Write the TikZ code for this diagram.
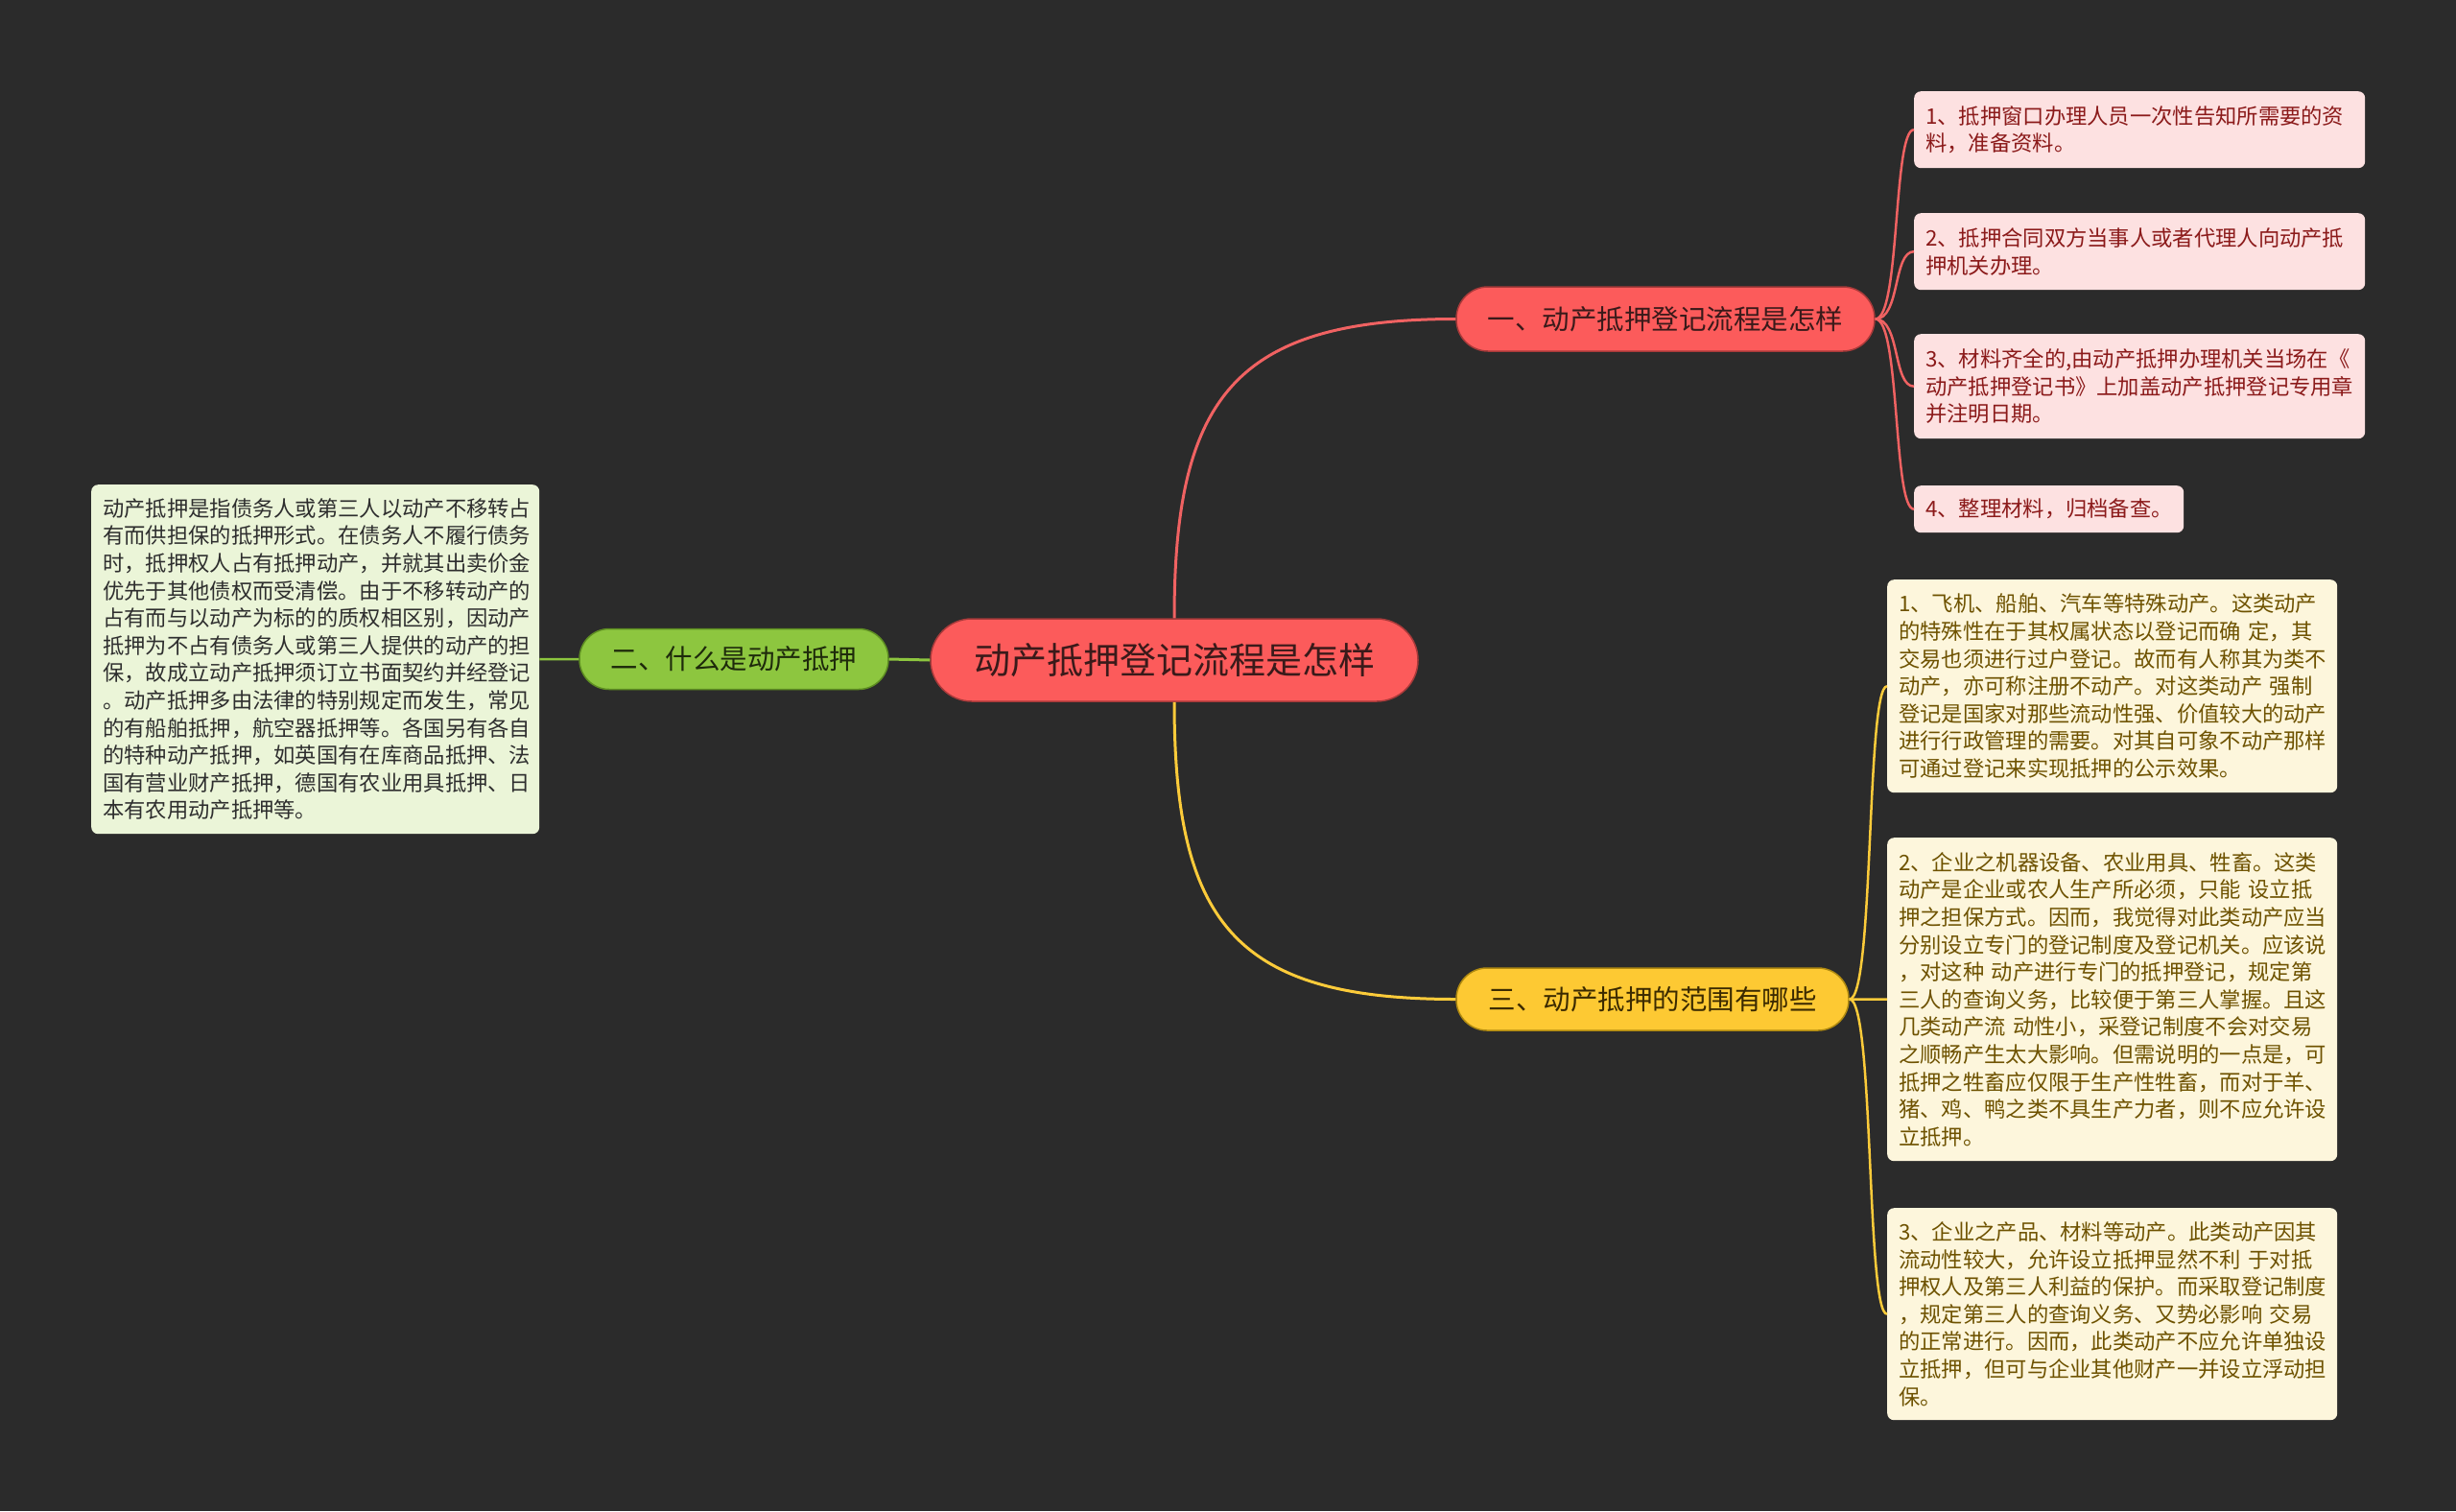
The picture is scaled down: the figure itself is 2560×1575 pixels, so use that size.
\documentclass[tikz,border=0pt]{standalone}
\usepackage{fontspec}
\newfontfamily\cjk{Noto Sans CJK SC}
\usetikzlibrary{calc}
\definecolor{bg}{HTML}{2B2B2B}
\definecolor{redfill}{HTML}{FC5B5B}
\definecolor{redborder}{HTML}{A83A3A}
\definecolor{redtext}{HTML}{3A1A1A}
\definecolor{greenfill}{HTML}{8DC63F}
\definecolor{greenborder}{HTML}{5E8E22}
\definecolor{greentext}{HTML}{1E2A0B}
\definecolor{yellowfill}{HTML}{FDC933}
\definecolor{yellowborder}{HTML}{B08A10}
\definecolor{yellowtext}{HTML}{3B2A00}
\definecolor{redline}{HTML}{F06262}
\definecolor{greenline}{HTML}{8DC63F}
\definecolor{yellowline}{HTML}{FCCB3A}
\definecolor{leafredfill}{HTML}{FDE1E1}
\definecolor{leafredtext}{HTML}{8B1A1A}
\definecolor{leafyellowfill}{HTML}{FDF6DC}
\definecolor{leafyellowtext}{HTML}{6E5200}
\definecolor{leafgreenfill}{HTML}{EBF5D8}
\definecolor{leafgreentext}{HTML}{2E2E2E}
\begin{document}
\begin{tikzpicture}[x=1pt,y=-1pt,
  rootnode/.style={draw=redborder, line width=1.5pt, fill=redfill, rounded corners=43pt,
    minimum width=508pt, minimum height=86pt, inner sep=0pt, text=redtext,
    font=\cjk\fontsize{38}{44}\selectfont},
  branchnode/.style={line width=1.5pt, inner sep=0pt, font=\cjk\fontsize{28.5}{34}\selectfont},
  leafnode/.style={anchor=north west, rounded corners=7pt, inner xsep=12pt, inner ysep=0pt,
    align=left, font=\cjk\fontsize{22.3}{28.6}\selectfont},
  redleaf/.style={leafnode, fill=leafredfill, text=leafredtext},
  yellowleaf/.style={leafnode, fill=leafyellowfill, text=leafyellowtext},
  greenleaf/.style={leafnode, fill=leafgreenfill, text=leafgreentext},
  mainedge/.style={line width=3pt},
  leafedge/.style={line width=2.5pt}
]
\useasboundingbox (0,0) rectangle (2560,1575);
\fill[bg] (0,0) rectangle (2560,1575);

% root and branches
\node[rootnode] (root) at (1224,688) {动产抵押登记流程是怎样};
\node[branchnode, draw=redborder, fill=redfill, text=redtext, rounded corners=33pt,
  minimum width=436pt, minimum height=67pt] (b1) at (1736,332.5) {一、动产抵押登记流程是怎样};
\node[branchnode, draw=greenborder, fill=greenfill, text=greentext, rounded corners=31pt,
  minimum width=322pt, minimum height=63pt] (b2) at (765,687) {二、什么是动产抵押};
\node[branchnode, draw=yellowborder, fill=yellowfill, text=yellowtext, rounded corners=32pt,
  minimum width=409pt, minimum height=65pt] (b3) at (1722.5,1041.5) {三、动产抵押的范围有哪些};

% left leaf
\node[greenleaf, text width=443pt, minimum height=364pt] (g) at (95,505) {%
动产抵押是指债务人或第三人以动产不移转占\\
有而供担保的抵押形式。在债务人不履行债务\\
时，抵押权人占有抵押动产，并就其出卖价金\\
优先于其他债权而受清偿。由于不移转动产的\\
占有而与以动产为标的的质权相区别，因动产\\
抵押为不占有债务人或第三人提供的动产的担\\
保，故成立动产抵押须订立书面契约并经登记\\
。动产抵押多由法律的特别规定而发生，常见\\
的有船舶抵押，航空器抵押等。各国另有各自\\
的特种动产抵押，如英国有在库商品抵押、法\\
国有营业财产抵押，德国有农业用具抵押、日\\
本有农用动产抵押等。};

% red leaves
\node[redleaf, text width=446pt, minimum height=80pt] (l1) at (1995,95) {%
1、抵押窗口办理人员一次性告知所需要的资\\
料，准备资料。};
\node[redleaf, text width=446pt, minimum height=80pt] (l2) at (1995,222) {%
2、抵押合同双方当事人或者代理人向动产抵\\
押机关办理。};
\node[redleaf, text width=446pt, minimum height=109pt] (l3) at (1995,348) {%
3、材料齐全的,由动产抵押办理机关当场在《\\
动产抵押登记书》上加盖动产抵押登记专用章\\
并注明日期。};
\node[redleaf, text width=257pt, minimum height=49pt] (l4) at (1995,506) {%
4、整理材料，归档备查。};

% yellow leaves
\node[yellowleaf, text width=445pt, minimum height=222pt] (y1) at (1967,604) {%
1、飞机、船舶、汽车等特殊动产。这类动产\\
的特殊性在于其权属状态以登记而确~定，其\\
交易也须进行过户登记。故而有人称其为类不\\
动产，亦可称注册不动产。对这类动产~强制\\
登记是国家对那些流动性强、价值较大的动产\\
进行行政管理的需要。对其自可象不动产那样\\
可通过登记来实现抵押的公示效果。};
\node[yellowleaf, text width=445pt, minimum height=337pt] (y2) at (1967,873) {%
2、企业之机器设备、农业用具、牲畜。这类\\
动产是企业或农人生产所必须，只能~设立抵\\
押之担保方式。因而，我觉得对此类动产应当\\
分别设立专门的登记制度及登记机关。应该说\\
，对这种~动产进行专门的抵押登记，规定第\\
三人的查询义务，比较便于第三人掌握。且这\\
几类动产流~动性小，采登记制度不会对交易\\
之顺畅产生太大影响。但需说明的一点是，可\\
抵押之牲畜应仅限于生产性牲畜，而对于羊、\\
猪、鸡、鸭之类不具生产力者，则不应允许设\\
立抵押。};
\node[yellowleaf, text width=445pt, minimum height=221pt] (y3) at (1967,1259) {%
3、企业之产品、材料等动产。此类动产因其\\
流动性较大，允许设立抵押显然不利~于对抵\\
押权人及第三人利益的保护。而采取登记制度\\
，规定第三人的查询义务、又势必影响~交易\\
的正常进行。因而，此类动产不应允许单独设\\
立抵押，但可与企业其他财产一并设立浮动担\\
保。};

% main connectors
\draw[mainedge, redline] (root.north) .. controls ($(root.north)+(0,-230)$) and ($(b1.west)+(-230,0)$) .. (b1.west);
\draw[mainedge, yellowline] (root.south) .. controls ($(root.south)+(0,230)$) and ($(b3.west)+(-230,0)$) .. (b3.west);
\draw[mainedge, greenline] (root.west) -- (b2.east);
\draw[leafedge, greenline] (b2.west) -- (g.east);

% leaf connectors
\foreach \l in {l1,l2,l3,l4}{
  \draw[leafedge, redline] (b1.east) .. controls ($(b1.east)+(26,0)$) and ($(\l.west)+(-22,0)$) .. (\l.west);
}
\foreach \l in {y1,y2,y3}{
  \draw[leafedge, yellowline] (b3.east) .. controls ($(b3.east)+(26,0)$) and ($(\l.west)+(-22,0)$) .. (\l.west);
}
\end{tikzpicture}
\end{document}
